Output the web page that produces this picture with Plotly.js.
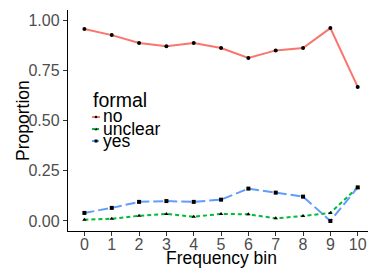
<!DOCTYPE html>
<html>
<head>
<meta charset="utf-8">
<script src="https://cdn.plot.ly/plotly-3.0.1.min.js"></script>
<style>html,body{margin:0;padding:0;background:#fff;}#chart{width:368px;height:269px;}</style>
</head>
<body>
<div id="chart"></div>
<script>
// Data
var bins = [0, 1, 2, 3, 4, 5, 6, 7, 8, 9, 10];
var noVals      = [0.955, 0.925, 0.886, 0.869, 0.886, 0.861, 0.811, 0.849, 0.861, 0.960, 0.667];
var unclearVals = [0.006, 0.011, 0.026, 0.035, 0.021, 0.035, 0.033, 0.013, 0.025, 0.040, 0.167];
var yesVals     = [0.040, 0.065, 0.095, 0.099, 0.095, 0.106, 0.161, 0.141, 0.121, 0.000, 0.167];
var seriesNames = ["no", "unclear", "yes"];
var yTickVals = [0, 0.25, 0.5, 0.75, 1];
var yTickText = ["0.00", "0.25", "0.50", "0.75", "1.00"];
var xTitle = "Frequency bin";
var yTitle = "Proportion";
var legendTitle = "formal";

var FONT = "Liberation Sans, Arial, Helvetica, sans-serif";
var colors = ["#F8766D", "#00BA38", "#619CFF"];
var dashes = ["solid", "4px,3px", "10px,4px"];
var symbols = ["circle", "triangle-up", "square"];
var allVals = [noVals, unclearVals, yesVals];

var traces = allVals.map(function (v, i) {
  return {
    x: bins, y: v, name: seriesNames[i], type: "scatter", mode: "lines+markers",
    line: {color: colors[i], width: 2, dash: dashes[i]},
    marker: {color: "#000", size: 4, symbol: symbols[i]},
    showlegend: false, hoverinfo: "skip"
  };
});

// custom compact legend and titles (pixel -> paper conversions)
var L = 68, W = 300, T = 10, H = 221;
function px(x) { return (x - L) / W; }
function py(y) { return (T + H - y) / H; }
var keyY = [117, 129, 141];
var shapes = [];
var annotations = [{
  text: legendTitle, xref: "paper", yref: "paper", x: px(91), y: py(100),
  xanchor: "left", yanchor: "middle", showarrow: false,
  font: {family: FONT, size: 19.5, color: "#000"}
}, {
  text: xTitle, xref: "paper", yref: "paper", x: px(221), y: py(258),
  xanchor: "center", yanchor: "middle", showarrow: false,
  font: {family: FONT, size: 17.5, color: "#000"}
}, {
  text: yTitle, xref: "paper", yref: "paper", x: px(23), y: py(121), textangle: -90,
  xanchor: "center", yanchor: "middle", showarrow: false,
  font: {family: FONT, size: 17.5, color: "#000"}
}];
seriesNames.forEach(function (n, i) {
  var yy = keyY[i];
  shapes.push({type: "line", xref: "paper", yref: "paper",
    x0: px(92), x1: px(100), y0: py(yy), y1: py(yy),
    line: {color: colors[i], width: 2, dash: i === 0 ? "solid" : "3px,1px"}});
  if (i === 0) {
    shapes.push({type: "circle", xref: "paper", yref: "paper",
      x0: px(94.7), x1: px(97.3), y0: py(yy - 1.3), y1: py(yy + 1.3),
      fillcolor: "#000", line: {width: 0}});
  } else if (i === 1) {
    shapes.push({type: "path", xref: "paper", yref: "paper",
      path: "M" + px(94.5) + "," + py(yy + 1.3) + " L" + px(97.5) + "," + py(yy + 1.3) + " L" + px(96) + "," + py(yy - 1.5) + " Z",
      fillcolor: "#000", line: {width: 0}});
  } else {
    shapes.push({type: "rect", xref: "paper", yref: "paper",
      x0: px(94.5), x1: px(97.5), y0: py(yy - 1.5), y1: py(yy + 1.5),
      fillcolor: "#000", line: {width: 0}});
  }
  annotations.push({
    text: n, xref: "paper", yref: "paper", x: px(100.5), y: py(yy - 0.5),
    xanchor: "left", yanchor: "middle", showarrow: false,
    font: {family: FONT, size: 17.5, color: "#000"}
  });
});

var layout = {
  width: 368, height: 269,
  margin: {l: L, r: 0, t: T, b: 269 - T - H, pad: 0},
  paper_bgcolor: "#fff", plot_bgcolor: "#fff",
  font: {family: FONT},
  showlegend: false,
  xaxis: {
    range: [-0.6, 10.377], tickvals: bins, ticktext: bins.map(String),
    showgrid: false, zeroline: false, showline: true, linecolor: "#000", linewidth: 1.2,
    ticks: "outside", ticklen: 4, tickwidth: 1, tickcolor: "#333",
    ticklabelstandoff: -5,
    tickfont: {family: FONT, size: 16, color: "#4D4D4D"},
    fixedrange: true
  },
  yaxis: {
    range: [-0.05, 1.05], tickvals: yTickVals, ticktext: yTickText,
    showgrid: false, zeroline: false, showline: true, linecolor: "#000", linewidth: 1.2,
    ticks: "outside", ticklen: 4, tickwidth: 1, tickcolor: "#333",
    tickfont: {family: FONT, size: 16, color: "#4D4D4D"},
    fixedrange: true
  },
  shapes: shapes,
  annotations: annotations
};

Plotly.newPlot("chart", traces, layout, {displayModeBar: false, staticPlot: true});
</script>
</body>
</html>
